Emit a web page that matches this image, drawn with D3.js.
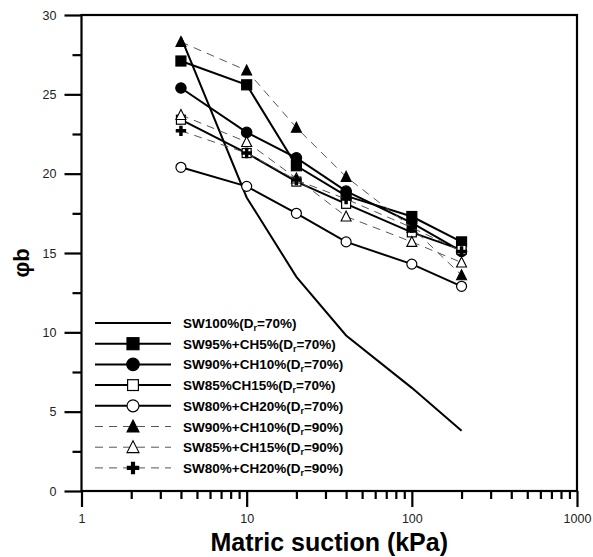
<!DOCTYPE html>
<html>
<head>
<meta charset="utf-8">
<script src="https://cdn.jsdelivr.net/npm/d3@7"></script>
<style>
  body { margin: 0; background: #fff; }
  svg { font-family: Arial, "Liberation Sans", sans-serif; }
</style>
</head>
<body>
<div id="chart"></div>
<script>
// Data
const suction = [4, 10, 20, 40, 100, 200];
const sw100_70 = [28.6, 18.5, 13.5, 9.8, 6.5, 3.8];
const sw95ch5_70 = [27.1, 25.6, 20.5, 18.6, 17.3, 15.7];
const sw90ch10_70 = [25.4, 22.6, 21.0, 18.9, 16.9, 15.1];
const sw85ch15_70 = [23.4, 21.3, 19.5, 18.1, 16.3, 15.2];
const sw80ch20_70 = [20.4, 19.2, 17.5, 15.7, 14.3, 12.9];
const sw90ch10_90 = [28.3, 26.5, 22.9, 19.8, 16.6, 13.6];
const sw85ch15_90 = [23.7, 22.0, 19.7, 17.3, 15.7, 14.4];
const sw80ch20_90 = [22.7, 21.3, 19.6, 18.4, 16.6, 15.1];

const xTicks = [1, 10, 100, 1000];
const yTicks = [0, 5, 10, 15, 20, 25, 30];

const series = [
    { name: "SW100%(D", dr: "=70%)", values: sw100_70, marker: null, dashed: false },
    { name: "SW95%+CH5%(D", dr: "=70%)", values: sw95ch5_70, marker: "square", filled: true, dashed: false },
    { name: "SW90%+CH10%(D", dr: "=70%)", values: sw90ch10_70, marker: "circle", filled: true, dashed: false },
    { name: "SW85%CH15%(D", dr: "=70%)", values: sw85ch15_70, marker: "square", filled: false, dashed: false },
    { name: "SW80%+CH20%(D", dr: "=70%)", values: sw80ch20_70, marker: "circle", filled: false, dashed: false },
    { name: "SW90%+CH10%(D", dr: "=90%)", values: sw90ch10_90, marker: "triangle", filled: true, dashed: true },
    { name: "SW85%+CH15%(D", dr: "=90%)", values: sw85ch15_90, marker: "triangle", filled: false, dashed: true },
    { name: "SW80%+CH20%(D", dr: "=90%)", values: sw80ch20_90, marker: "cross", filled: true, dashed: true }
];

const W = 593, H = 557;
const margin = { top: 15, right: 16, bottom: 66, left: 81.5 };

const svg = d3.select("#chart").append("svg")
    .attr("width", W)
    .attr("height", H);

const x = d3.scaleLog().domain([1, 1000]).range([margin.left, W - margin.right]);
const y = d3.scaleLinear().domain([0, 30]).range([H - margin.bottom, margin.top]);

// minor ticks
const xMinor = [];
[1, 10, 100].forEach(d => { for (let k = 2; k <= 9; k++) xMinor.push(d * k); });
const yMinor = [2.5, 7.5, 12.5, 17.5, 22.5, 27.5];

// x axis
const xAxisG = svg.append("g")
    .attr("transform", `translate(0,${y(0)})`);
xAxisG.call(d3.axisBottom(x).tickValues(xMinor).tickSize(8).tickFormat(""))
    .call(g => g.select(".domain").remove())
    .call(g => g.selectAll(".tick text").remove());
xAxisG.append("g")
    .call(d3.axisBottom(x).tickValues(xTicks).tickSize(16).tickPadding(7).tickFormat(d3.format("d")))
    .call(g => g.select(".domain").remove())
    .call(g => g.selectAll("text").style("font-size", "12.5px").attr("fill", "#222"));
xAxisG.selectAll(".tick line").attr("stroke", "#000").attr("stroke-width", 2.2);

// y axis
const yAxisG = svg.append("g")
    .attr("transform", `translate(${x(1)},0)`);
yAxisG.call(d3.axisLeft(y).tickValues(yMinor).tickSize(9).tickFormat(""))
    .call(g => g.select(".domain").remove())
    .call(g => g.selectAll(".tick text").remove());
yAxisG.append("g")
    .call(d3.axisLeft(y).tickValues(yTicks).tickSize(17).tickPadding(8))
    .call(g => g.select(".domain").remove())
    .call(g => g.selectAll("text").style("font-size", "12.5px").attr("fill", "#222"));
yAxisG.selectAll(".tick line").attr("stroke", "#000").attr("stroke-width", 2.2);

// frame
svg.append("rect")
    .attr("x", x(1))
    .attr("y", y(30))
    .attr("width", x(1000) - x(1))
    .attr("height", y(0) - y(30))
    .attr("fill", "none")
    .attr("stroke", "#000")
    .attr("stroke-width", 2.2);

// axis titles
svg.append("text")
    .attr("x", (x(1) + x(1000)) / 2)
    .attr("y", 551)
    .attr("text-anchor", "middle")
    .style("font-size", "25px")
    .style("font-weight", "bold")
    .text("Matric suction (kPa)");

svg.append("text")
    .attr("transform", `translate(29,${y(15) + 10}) rotate(-90)`)
    .attr("text-anchor", "middle")
    .style("font-size", "22px")
    .style("font-weight", "bold")
    .text("\u03C6b");

// marker drawing
function drawMarker(sel, s, cx, cy, big) {
    if (!s.marker) return;
    const k = big ? 1.2 : 1;
    const fill = s.filled ? "#000" : "#fff";
    if (s.marker === "square") {
        const sz = (s.filled ? 10 : 9) * k;
        sel.append("rect")
            .attr("x", cx - sz / 2).attr("y", cy - sz / 2)
            .attr("width", sz).attr("height", sz)
            .attr("fill", fill).attr("stroke", "#000").attr("stroke-width", 1.2);
    } else if (s.marker === "circle") {
        sel.append("circle")
            .attr("cx", cx).attr("cy", cy).attr("r", (s.filled ? 5.2 : 5) * k)
            .attr("fill", fill).attr("stroke", "#000").attr("stroke-width", 1.2);
    } else if (s.marker === "triangle") {
        const h = 9 * k, w = 10 * k;
        sel.append("path")
            .attr("d", `M${cx},${cy - h / 2 - 1}L${cx + w / 2},${cy + h / 2}L${cx - w / 2},${cy + h / 2}Z`)
            .attr("fill", fill).attr("stroke", "#000").attr("stroke-width", 1.1);
    } else if (s.marker === "cross") {
        sel.append("path")
            .attr("d", d3.symbol(d3.symbolCross, 60 * k * k)())
            .attr("transform", `translate(${cx},${cy})`)
            .attr("fill", "#000");
    }
}

const line = d3.line()
    .x((d, i) => x(suction[i]))
    .y(d => y(d));

// series lines and markers
series.forEach(s => {
    const g = svg.append("g");
    g.append("path")
        .datum(s.values)
        .attr("d", line)
        .attr("fill", "none")
        .attr("stroke", s.dashed ? "#555" : "#000")
        .attr("stroke-width", s.dashed ? 1 : 2)
        .attr("stroke-dasharray", s.dashed ? "8,6" : null);
    s.values.forEach((v, i) => drawMarker(g, s, x(suction[i]), y(v), false));
});

// legend
const legend = svg.append("g").attr("transform", "translate(95,323)");
series.forEach((s, i) => {
    const row = legend.append("g").attr("transform", `translate(0,${i * 20.7})`);
    row.append("line")
        .attr("x1", 0).attr("x2", 76)
        .attr("y1", 0).attr("y2", 0)
        .attr("stroke", s.dashed ? "#555" : "#000")
        .attr("stroke-width", s.dashed ? 1 : 2)
        .attr("stroke-dasharray", s.dashed ? "8,6" : null);
    drawMarker(row, s, 38, 0, true);
    const t = row.append("text")
        .attr("x", 88)
        .attr("y", 5)
        .style("font-size", "13.5px")
        .style("font-weight", "bold");
    t.append("tspan").text(s.name);
    t.append("tspan").attr("dy", 3).style("font-size", "9px").text("r");
    t.append("tspan").attr("dy", -3).text(s.dr);
});
</script>
</body>
</html>
